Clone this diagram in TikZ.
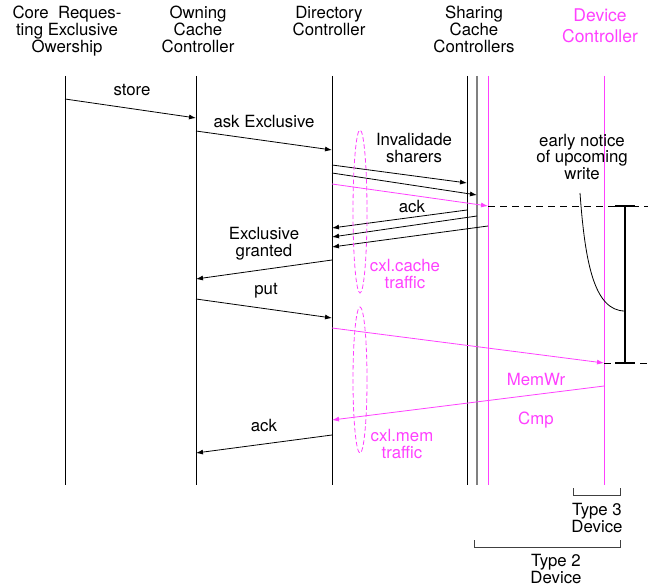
\documentclass[tikz,border=0pt]{standalone}
\usepackage{fontspec}
\setmainfont{TeX Gyre Heros}
\usetikzlibrary{arrows.meta,positioning,shapes.geometric}
\definecolor{cxl}{RGB}{255,64,255}

\begin{document}
\begin{tikzpicture}[x=1pt,y=-1pt,
    font=\fontsize{16.8}{16.8}\selectfont,
    life/.style={line width=0.8pt},
    msg/.style={line width=0.8pt,-{Latex[length=7pt,width=5pt]}},
    lbl/.style={align=center,inner sep=0pt},
    head/.style={lbl,anchor=north},
    ring/.style={draw=cxl,dash pattern=on 4.5pt off 2.5pt,ellipse,line width=0.8pt,inner sep=0pt,minimum width=14pt},
    brace/.style={draw=black!75,line width=0.8pt}]
  \useasboundingbox (0,0) rectangle (650,588);

  \coordinate (ct) at (65,76);
  \coordinate (ot) at (196,76);
  \coordinate (dt) at (332,76);
  \coordinate (s1t) at (467,76);
  \coordinate (s2t) at (477,76);
  \coordinate (s3t) at (488,76);
  \coordinate (vt) at (604,76);
  \coordinate [below=409pt of ct] (cb);
  \coordinate [below=409pt of ot] (ob);
  \coordinate [below=409pt of dt] (db);
  \coordinate [below=409pt of s1t] (s1b);
  \coordinate [below=409pt of s2t] (s2b);
  \coordinate [below=409pt of s3t] (s3b);
  \coordinate [below=409pt of vt] (vb);

  \node [head] (hcore) at (67,6) {Core\ \ Reques-\\ting Exclusive\\Owership};
  \node [head] (hown) at (198,6) {Owning\\Cache\\Controller};
  \node [head] (hdir) at (329,6) {Directory\\Controller};
  \node [head] (hshare) at (474,6) {Sharing\\Cache\\Controllers};
  \node [head,text=cxl,font=\fontsize{17.5}{21}\selectfont] (hdev) at (600,9) {Device\\Controller};

  \draw [life] (ct) -- (cb);
  \draw [life] (ot) -- (ob);
  \draw [life] (dt) -- (db);
  \draw [life] (s1t) -- (s1b);
  \draw [line width=2pt,black!50] (s2t) -- (s2b);
  \draw [life,cxl] (s3t) -- (s3b);
  \draw [life,cxl] (vt) -- (vb);

  \coordinate (st1) at (65,99);   \coordinate (st2) at (196,118);
  \coordinate (ax1) at (196,131); \coordinate (ax2) at (332,150);
  \coordinate (iv1) at (332,165); \coordinate (iv1e) at (467,183);
  \coordinate (iv2) at (332,173); \coordinate (iv2e) at (477,195);
  \coordinate (iv3) at (332,184); \coordinate (iv3e) at (488,206);
  \coordinate (ak1) at (467,210); \coordinate (ak1e) at (332,228);
  \coordinate (ak2) at (477,216); \coordinate (ak2e) at (332,237);
  \coordinate (ak3) at (488,226); \coordinate (ak3e) at (332,247);
  \coordinate (gr1) at (332,260); \coordinate (gr2) at (196,279);
  \coordinate (pt1) at (196,299); \coordinate (pt2) at (332,318);
  \coordinate (mw1) at (332,328); \coordinate (mw2) at (604,363);
  \coordinate (cp1) at (604,386); \coordinate (cp2) at (332,420);
  \coordinate (ac1) at (332,435); \coordinate (ac2) at (196,453);
  \coordinate (dash1) at (648,206);
  \coordinate (dash2) at (648,363);

  \draw [msg] (st1) -- (st2);
  \draw [msg] (ax1) -- (ax2);
  \draw [msg] (iv1) -- (iv1e);
  \draw [msg] (iv2) -- (iv2e);
  \draw [msg,cxl] (iv3) -- (iv3e);
  \draw [msg] (ak1) -- (ak1e);
  \draw [msg] (ak2) -- (ak2e);
  \draw [msg] (ak3) -- (ak3e);
  \draw [msg] (gr1) -- (gr2);
  \draw [msg] (pt1) -- (pt2);
  \draw [msg,cxl] (mw1) -- (mw2);
  \draw [msg,cxl] (cp1) -- (cp2);
  \draw [msg] (ac1) -- (ac2);
  \draw [line width=0.8pt,dash pattern=on 7pt off 5pt] (iv3e) -- (dash1);
  \draw [line width=0.8pt,dash pattern=on 7pt off 5pt] (mw2) -- (dash2);

  \node [lbl] (lstore) at (132,90) {store};
  \node [lbl] (lask) at (264,122) {ask Exclusive};
  \node [lbl] (linv) at (414,148) {Invalidade\\sharers};
  \node [lbl] (lack) at (412,207) {ack};
  \node [lbl] (lgrant) at (264,244) {Exclusive\\granted};
  \node [lbl] (lput) at (266,291) {put};
  \node [lbl,text=cxl] (lmemwr) at (536,379) {MemWr};
  \node [lbl,text=cxl] (lcmp) at (536,420) {Cmp};
  \node [lbl] (lack2) at (264,425) {ack};
  \node [lbl,text=cxl] (lcache) at (405,274) {cxl.cache\\traffic};
  \node [lbl,text=cxl] (lmem) at (402,444) {cxl.mem\\traffic};
  \node [lbl] (lnote) at (582,157) {early notice\\of upcoming\\write};

  \node [ring,minimum height=163pt] (cachering) at (360,211.5) {};
  \node [ring,minimum height=146pt] (memring) at (360,380) {};

  \coordinate (bar1) at (625,206);
  \coordinate (bar2) at (625,363);
  \coordinate (nt1) at (580,193);
  \coordinate (nt2) at (625,311);
  \draw [line width=2.8pt] (bar1) -- (bar2);
  \draw [line width=2.8pt] ([xshift=-10pt]bar1) -- ([xshift=10pt]bar1);
  \draw [line width=2.8pt] ([xshift=-10pt]bar2) -- ([xshift=10pt]bar2);
  \draw [line width=0.8pt] (nt1) .. controls (585,262) and (594,311) .. (nt2);

  \coordinate (t3a) at (573,488); \coordinate (t3b) at (620,488);
  \coordinate (t2a) at (474,540); \coordinate (t2b) at (620,540);
  \draw [brace] (t3a) -- ++(0,7) -| (t3b);
  \draw [brace] (t2a) -- ++(0,7) -| (t2b);
  \node [lbl] (ltype3) at (597,518) {Type 3\\Device};
  \node [lbl] (ltype2) at (556,569) {Type 2\\Device};
\end{tikzpicture}
\end{document}
